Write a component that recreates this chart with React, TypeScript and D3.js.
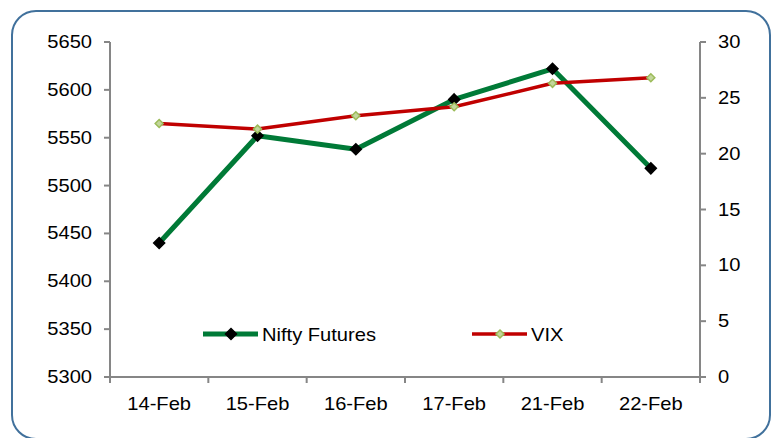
import React from "react";
import * as d3 from "d3";

const categories = ["14-Feb", "15-Feb", "16-Feb", "17-Feb", "21-Feb", "22-Feb"];
const niftyValues = [5440, 5552, 5538, 5590, 5622, 5518];
const vixValues = [22.7, 22.2, 23.4, 24.2, 26.3, 26.8];
const leftTicks = [5300, 5350, 5400, 5450, 5500, 5550, 5600, 5650];
const rightTicks = [0, 5, 10, 15, 20, 25, 30];
const seriesNames = ["Nifty Futures", "VIX"];

const W = 771;
const H = 438;
const plotLeft = 110;
const plotRight = 700;
const plotTop = 42;
const plotBottom = 377;
const FONT = "'Liberation Sans', Arial, sans-serif";
const SX = 1.15;

function Label({ x, y, anchor, children }: { x: number; y: number; anchor: string; children: React.ReactNode }) {
  return (
    <g transform={`translate(${x},${y}) scale(${SX},1)`}>
      <text x={0} y={0} textAnchor={anchor as any} fontFamily={FONT} fontSize={17.5} fill="#000">
        {children}
      </text>
    </g>
  );
}

function diamond(cx: number, cy: number, r: number) {
  return `M${cx},${cy - r}L${cx + r},${cy}L${cx},${cy + r}L${cx - r},${cy}Z`;
}

export default function App() {
  const x = d3.scaleBand<string>().domain(categories).range([plotLeft, plotRight]);
  const yL = d3.scaleLinear().domain([5300, 5650]).range([plotBottom, plotTop]);
  const yR = d3.scaleLinear().domain([0, 30]).range([plotBottom, plotTop]);
  const cx = (c: string) => (x(c) as number) + x.bandwidth() / 2;

  const niftyLine = d3
    .line<number>()
    .x((_, i) => cx(categories[i]))
    .y((d) => yL(d));
  const vixLine = d3
    .line<number>()
    .x((_, i) => cx(categories[i]))
    .y((d) => yR(d));

  const axisColor = "#868686";
  const green = "#007A37";
  const red = "#C00000";

  const legendY = 334;

  return (
    <svg width={W} height={H} style={{ position: "absolute", left: 0, top: 0 }}>
      <rect x={0} y={0} width={W} height={H} fill="#fff" />
      <rect x={12} y={11} width={758} height={428} rx={24} ry={24} fill="#fff" stroke="#41719C" strokeWidth={2} />

      {/* left axis */}
      <line x1={plotLeft} x2={plotLeft} y1={plotTop} y2={plotBottom} stroke={axisColor} strokeWidth={2} />
      {leftTicks.map((t) => (
        <g key={"l" + t}>
          <line x1={plotLeft - 6} x2={plotLeft} y1={yL(t)} y2={yL(t)} stroke={axisColor} strokeWidth={2} />
          <Label x={92} y={yL(t) + 6} anchor="end">
            {t}
          </Label>
        </g>
      ))}

      {/* right axis */}
      <line x1={plotRight} x2={plotRight} y1={plotTop} y2={plotBottom} stroke={axisColor} strokeWidth={2} />
      {rightTicks.map((t) => (
        <g key={"r" + t}>
          <line x1={plotRight} x2={plotRight + 6} y1={yR(t)} y2={yR(t)} stroke={axisColor} strokeWidth={2} />
          <Label x={718} y={yR(t) + 6} anchor="start">
            {t}
          </Label>
        </g>
      ))}

      {/* bottom axis */}
      <line x1={plotLeft - 6} x2={plotRight + 6} y1={plotBottom} y2={plotBottom} stroke={axisColor} strokeWidth={2} />
      {categories.concat(["__end"]).map((c, i) => {
        const px = plotLeft + i * x.bandwidth();
        return <line key={"t" + i} x1={px} x2={px} y1={plotBottom} y2={plotBottom + 6} stroke={axisColor} strokeWidth={2} />;
      })}
      {categories.map((c) => (
        <Label key={"c" + c} x={cx(c)} y={410} anchor="middle">
          {c}
        </Label>
      ))}

      {/* Nifty series */}
      <path d={niftyLine(niftyValues) || ""} fill="none" stroke={green} strokeWidth={5} strokeLinejoin="round" />
      {niftyValues.map((v, i) => (
        <path key={"n" + i} d={diamond(cx(categories[i]), yL(v), 5.5)} fill="#000" stroke="#000" strokeWidth={1.5} />
      ))}

      {/* VIX series */}
      <path d={vixLine(vixValues) || ""} fill="none" stroke={red} strokeWidth={3.5} strokeLinejoin="round" />
      {vixValues.map((v, i) => (
        <path key={"v" + i} d={diamond(cx(categories[i]), yR(v), 4)} fill="#C3D69B" stroke="#9BBB59" strokeWidth={1.5} />
      ))}

      {/* legend */}
      <line x1={203} x2={258} y1={legendY} y2={legendY} stroke={green} strokeWidth={5} />
      <path d={diamond(231, legendY, 5.5)} fill="#000" stroke="#000" strokeWidth={1.5} />
      <Label x={262} y={legendY + 7} anchor="start">
        {seriesNames[0]}
      </Label>
      <line x1={472} x2={527} y1={legendY} y2={legendY} stroke={red} strokeWidth={3.5} />
      <path d={diamond(500, legendY, 4)} fill="#C3D69B" stroke="#9BBB59" strokeWidth={1.5} />
      <Label x={531} y={legendY + 7} anchor="start">
        {seriesNames[1]}
      </Label>
    </svg>
  );
}
